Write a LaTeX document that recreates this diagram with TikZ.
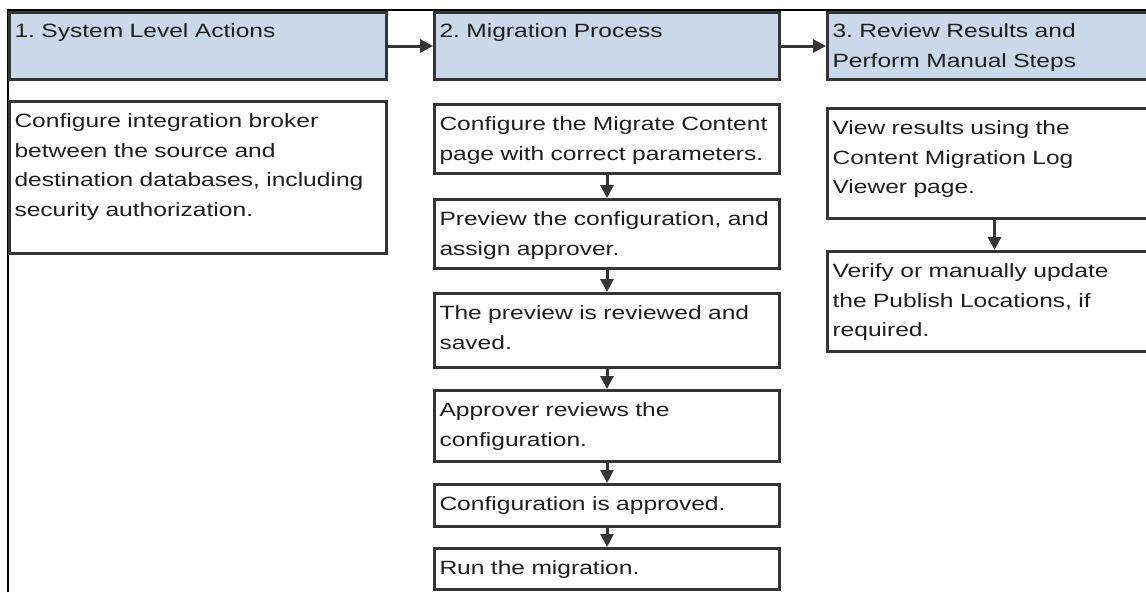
\documentclass[tikz,border=0pt]{standalone}
\usepackage{fontspec}
\setmainfont{Liberation Sans}[FakeStretch=1.28]
\usetikzlibrary{arrows.meta}
\definecolor{Hc}{HTML}{CAD8EA}
\definecolor{Bc}{HTML}{353535}
\definecolor{Tc}{HTML}{1E1E1E}
\tikzset{
  box/.style={draw=Bc, line width=3pt, anchor=north west, align=left, text=Tc,
    inner xsep=5pt, inner ysep=0pt, font=\fontsize{19.2pt}{29.5pt}\selectfont\frenchspacing},
  head/.style={box, fill=Hc, text height=25pt, text depth=42pt},
  stepbox/.style={box, text height=26pt},
  link/.style={-{Triangle[length=13pt, width=13pt]}, line width=3pt, draw=Bc},
  frame/.style={black, line width=1.5pt},
}
\begin{document}
\begin{tikzpicture}[x=1pt, y=-1pt]
  \useasboundingbox (0,0) rectangle (1146,592);
  \clip (0,0) rectangle (1146,592);
  % frame of the screen shot
  \draw[frame] (8,592) -- (8,10) -- (1146,10);
  % the three stages
  \node[head, text width=367pt] (h1) at (8,11) {1. System Level Actions};
  \node[head, text width=335pt] (h2) at (433,11) {2. Migration Process};
  \node[head, text width=360pt] (h3) at (826,11) {3. Review Results and\\Perform Manual Steps};
  \draw[link] (h1) -- (h2);
  \draw[link] (h2) -- (h3);
  % stage 1
  \node[stepbox, text width=367pt, text depth=126pt] (s1) at (8,100)
    {Configure integration broker\\between the source and\\destination databases, including\\security authorization.};
  % stage 2
  \node[stepbox, text width=335pt, text depth=43pt] (m1) at (433,103)
    {Configure the Migrate Content\\page with correct parameters.};
  \node[stepbox, text width=335pt, text depth=43pt] (m2) at (433,198)
    {Preview the configuration, and\\assign approver.};
  \node[stepbox, text width=335pt, text depth=48pt] (m3) at (433,292)
    {The preview is reviewed and\\saved.};
  \node[stepbox, text width=335pt, text depth=45pt] (m4) at (433,389)
    {Approver reviews the\\configuration.};
  \node[stepbox, text width=335pt, text depth=16pt] (m5) at (433,483)
    {Configuration is approved.};
  \node[stepbox, text width=335pt, text depth=15pt] (m6) at (433,547)
    {Run the migration.};
  % stage 3
  \node[stepbox, text width=324pt, text depth=84pt] (r1) at (826,107)
    {View results using the\\Content Migration Log\\Viewer page.};
  \node[stepbox, text width=324pt, text depth=74pt] (r2) at (826,250)
    {Verify or manually update\\the Publish Locations, if\\required.};
  \foreach \a/\b in {m1/m2,m2/m3,m3/m4,m4/m5,m5/m6,r1/r2}
    \draw[link] (\a) -- (\b);
\end{tikzpicture}
\end{document}
